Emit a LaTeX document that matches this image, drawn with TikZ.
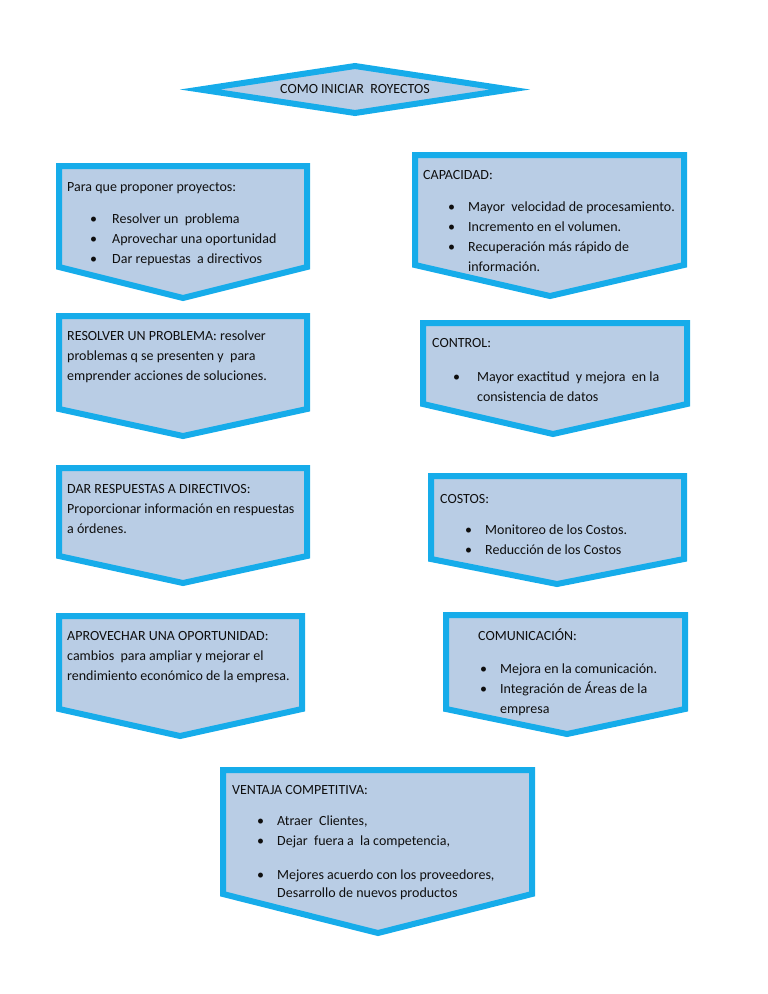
\documentclass[tikz,border=0pt]{standalone}
\usepackage{fontspec}
\setmainfont{Carlito}
\usepackage{tikz}

\definecolor{boxline}{RGB}{22,172,234}
\definecolor{boxfill}{RGB}{185,205,229}
\definecolor{ink}{RGB}{15,15,15}

\begin{document}
\begin{tikzpicture}[x=1pt,y=-1pt,
		box/.style={draw=boxline,fill=boxfill,line width=6pt,line join=miter},
		txt/.style={anchor=base west,inner sep=0pt,text=ink,font=\fontsize{14}{20}\selectfont}]
		\useasboundingbox (0,0) rectangle (768,994);
		% title
		\draw[box] (200,89.5) -- (355,66) -- (510,89.5) -- (355,113) -- cycle;
		\node[txt,anchor=center] (title) at (355,89) {COMO INICIAR~ ROYECTOS};
		% left column
		\draw[box] (59,166) -- (307,166) -- (307,267) -- (183,298) -- (59,267) -- cycle;
		\node[txt] (para) at (67,191) {Para que proponer proyectos:};
		\node[txt] (paralist) at (90,223) {\begin{tabular}[t]{@{}p{22pt}@{}l@{}}
			\textbullet & Resolver un~ problema\\
			\textbullet & Aprovechar una oportunidad\\
			\textbullet & Dar repuestas~ a directivos
		\end{tabular}};
		\draw[box] (59,316) -- (307,316) -- (307,409) -- (183,436) -- (59,409) -- cycle;
		\node[txt] (resolver) at (67,340) {\begin{tabular}[t]{@{}l@{}}
			RESOLVER UN PROBLEMA: resolver\\
			problemas q se presenten y~ para\\
			emprender acciones de soluciones.
		\end{tabular}};
		\draw[box] (59,468) -- (307,468) -- (307,556) -- (183,583) -- (59,556) -- cycle;
		\node[txt] (dar) at (67,493) {\begin{tabular}[t]{@{}l@{}}
			DAR RESPUESTAS A DIRECTIVOS:\\
			Proporcionar información en respuestas\\
			a órdenes.
		\end{tabular}};
		\draw[box] (59,616) -- (302,616) -- (302,709) -- (180,736) -- (59,709) -- cycle;
		\node[txt] (aprovechar) at (67,640) {\begin{tabular}[t]{@{}l@{}}
			APROVECHAR UNA OPORTUNIDAD:\\
			cambios~ para ampliar y mejorar el\\
			rendimiento económico de la empresa.
		\end{tabular}};
		% right column
		\draw[box] (415,155) -- (684,155) -- (684,265) -- (550,296) -- (415,265) -- cycle;
		\node[txt] (capacidad) at (423,179) {CAPACIDAD:};
		\node[txt] (capacidadlist) at (448,211) {\begin{tabular}[t]{@{}p{20pt}@{}l@{}}
			\textbullet & Mayor~ velocidad de procesamiento.\\
			\textbullet & Incremento en el volumen.\\
			\textbullet & Recuperación más rápido de\\
			& información.
		\end{tabular}};
		\draw[box] (423,323) -- (687,323) -- (687,404) -- (553,434) -- (423,404) -- cycle;
		\node[txt] (control) at (432,347) {CONTROL:};
		\node[txt] (controllist) at (453,381) {\begin{tabular}[t]{@{}p{24pt}@{}l@{}}
			\textbullet & Mayor exactitud~ y mejora~ en la\\
			& consistencia de datos
		\end{tabular}};
		\draw[box] (431,476) -- (684,476) -- (684,559) -- (557,584) -- (431,559) -- cycle;
		\node[txt] (costos) at (440,503) {COSTOS:};
		\node[txt] (costoslist) at (465,534) {\begin{tabular}[t]{@{}p{20pt}@{}l@{}}
			\textbullet & Monitoreo de los Costos.\\
			\textbullet & Reducción de los Costos
		\end{tabular}};
		\draw[box] (446,615) -- (685,615) -- (685,709) -- (567,734) -- (446,709) -- cycle;
		\node[txt] (comunicacion) at (478,640) {COMUNICACIÓN:};
		\node[txt] (comunicacionlist) at (480,673) {\begin{tabular}[t]{@{}p{20pt}@{}l@{}}
			\textbullet & Mejora en la comunicación.\\
			\textbullet & Integración de Áreas de la\\
			& empresa
		\end{tabular}};
		% bottom
		\draw[box] (223,770) -- (532,770) -- (532,894) -- (378,933) -- (223,894) -- cycle;
		\node[txt] (ventaja) at (232,794) {VENTAJA COMPETITIVA:};
		\node[txt] (ventajalist) at (257,825) {\begin{tabular}[t]{@{}p{20pt}@{}l@{}}
			\textbullet & Atraer~ Clientes,\\
			\textbullet & Dejar~ fuera a~ la competencia,\\[14pt]
			\textbullet & Mejores acuerdo con los proveedores,\\[-2pt]
			& Desarrollo de nuevos productos
		\end{tabular}};
	\end{tikzpicture}
\end{document}
